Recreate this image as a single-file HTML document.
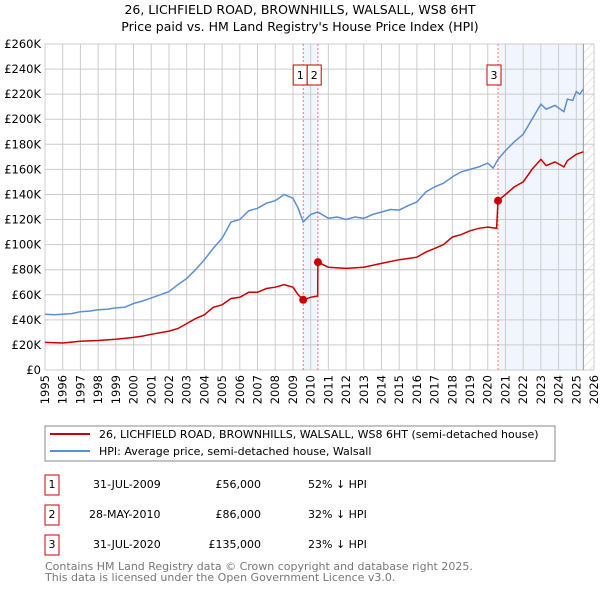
<!DOCTYPE html>
<html><head><meta charset="utf-8"><style>
body{margin:0;background:#fff;font-family:"DejaVu Sans","Liberation Sans",sans-serif;}
svg text{font-family:"DejaVu Sans","Liberation Sans",sans-serif;}
</style></head><body>
<svg id="c" width="600" height="590" viewBox="0 0 600 590" xmlns="http://www.w3.org/2000/svg">
<defs><pattern id="hatch" width="6" height="6" patternUnits="userSpaceOnUse" patternTransform="rotate(45)"><line x1="0" y1="0" x2="0" y2="6" stroke="#ccc" stroke-width="1"/></pattern></defs>
<text x="300" y="14" text-anchor="middle" font-size="12.5">26, LICHFIELD ROAD, BROWNHILLS, WALSALL, WS8 6HT</text>
<text x="300" y="31" text-anchor="middle" font-size="12.5">Price paid vs. HM Land Registry's House Price Index (HPI)</text>
<g id="plot"></g>
<g>
<rect x="45" y="426" width="510" height="35" fill="#fff" stroke="#888"/>
<line x1="50" y1="434" x2="90" y2="434" stroke="#cc0000" stroke-width="2"/>
<text x="99" y="438" font-size="11">26, LICHFIELD ROAD, BROWNHILLS, WALSALL, WS8 6HT (semi-detached house)</text>
<line x1="50" y1="451" x2="90" y2="451" stroke="#5b8fd6" stroke-width="2"/>
<text x="99" y="455" font-size="11">HPI: Average price, semi-detached house, Walsall</text>
</g>
<g font-size="11">
<rect x="45" y="475" width="14" height="20" fill="none" stroke="#cc0000"/><text x="52" y="488" text-anchor="middle">1</text>
<text x="93" y="488">31-JUL-2009</text><text x="261" y="488" text-anchor="end">£56,000</text><text x="308" y="488">52% ↓ HPI</text>
<rect x="45" y="505" width="14" height="20" fill="none" stroke="#cc0000"/><text x="52" y="518" text-anchor="middle">2</text>
<text x="89" y="518">28-MAY-2010</text><text x="261" y="518" text-anchor="end">£86,000</text><text x="308" y="518">32% ↓ HPI</text>
<rect x="45" y="535" width="14" height="20" fill="none" stroke="#cc0000"/><text x="52" y="548" text-anchor="middle">3</text>
<text x="93" y="548">31-JUL-2020</text><text x="261" y="548" text-anchor="end">£135,000</text><text x="308" y="548">23% ↓ HPI</text>
</g>
<text x="45" y="570" font-size="11" fill="#777">Contains HM Land Registry data © Crown copyright and database right 2025.</text>
<text x="45" y="581" font-size="11" fill="#777">This data is licensed under the Open Government Licence v3.0.</text>
</svg>
<script>
const hpiYears=[1995,1995.5,1996,1996.5,1997,1997.5,1998,1998.5,1999,1999.5,2000,2000.5,2001,2001.5,2002,2002.5,2003,2003.5,2004,2004.5,2005,2005.5,2006,2006.5,2007,2007.5,2008,2008.5,2009,2009.3,2009.58,2010,2010.4,2011,2011.5,2012,2012.5,2013,2013.5,2014,2014.5,2015,2015.5,2016,2016.5,2017,2017.5,2018,2018.5,2019,2019.5,2020,2020.3,2020.58,2021,2021.5,2022,2022.5,2023,2023.3,2023.8,2024.3,2024.5,2024.8,2025,2025.2,2025.4];
const hpiValues=[44.5,44,44.5,45,46.5,47,48,48.5,49.5,50,53,55,57.5,60,62.5,68,73,80,88,97,105,118,120,127,129,133,135,140,137,129,118,124,126,121,122,120,122,121,124,126,128,127.5,131,134,142,146,149,154,158,160,162,165,161,168,175,182,188,200,212,208,211,206,216,215,222,220,224];
const priceYears=[1995,1996,1997,1998,1999,2000,2000.5,2001,2002,2002.5,2003,2003.5,2004,2004.5,2005,2005.5,2006,2006.5,2007,2007.5,2008,2008.5,2009,2009.3,2009.58,2010,2010.4,2010.41,2011,2012,2013,2014,2015,2016,2016.5,2017,2017.5,2018,2018.5,2019,2019.5,2020,2020.5,2020.58,2021,2021.5,2022,2022.5,2023,2023.3,2023.8,2024.3,2024.5,2025,2025.4];
const priceValues=[22,21.5,23,23.5,24.5,26,27,28.5,31,33,37,41,44,50,52,57,58,62,62,65,66,68,66,60,56,58,59,86,82,81,82,85,88,90,94,97,100,106,108,111,113,114,113,135,140,146,150,160,168,163,166,162,167,172,174];
const saleYears=[2009.58,2010.41,2020.58];
const saleValues=[56,86,135];
const saleLabels=["1","2","3"];
const yTicks=[0,20,40,60,80,100,120,140,160,180,200,220,240,260];
const xTicks=[1995,1996,1997,1998,1999,2000,2001,2002,2003,2004,2005,2006,2007,2008,2009,2010,2011,2012,2013,2014,2015,2016,2017,2018,2019,2020,2021,2022,2023,2024,2025,2026];
const L=45,R=594,T=44,B=370,x0=1995,x1=2026,ymax=260;
const X=v=>L+(v-x0)/(x1-x0)*(R-L);
const Y=v=>B-v/ymax*(B-T);
const NS="http://www.w3.org/2000/svg";
const g=document.getElementById('plot');
function mk(t,a,p){const e=document.createElementNS(NS,t);for(const k in a)e.setAttribute(k,a[k]);(p||g).appendChild(e);return e;}
let s1=mk('rect',{x:X(saleYears[0]),y:T,width:X(saleYears[1])-X(saleYears[0]),height:B-T,fill:'#eef3fc',opacity:0.8});


let s2=mk('rect',{x:X(saleYears[2]),y:T,width:X(2025.4)-X(saleYears[2]),height:B-T,fill:'#eef3fc',opacity:0.8});


let h=mk('rect',{x:X(2025.4),y:T,width:R-X(2025.4),height:B-T,fill:'url(#hatch)'});


yTicks.forEach(v=>{
 let l=mk('line',{x1:L,x2:R,y1:Y(v),y2:Y(v),stroke:'#ccc'});
 
 
 let t=mk('text',{x:L-4,y:Y(v)+4,'text-anchor':'end','font-size':'11.5'});
 
 
 t.textContent='£'+(v===0?'0':v+'K');
});
xTicks.forEach(v=>{
 let l=mk('line',{x1:X(v),x2:X(v),y1:T,y2:B,stroke:'#ccc'});
 
 
 let t=mk('text',{x:0,y:0,'text-anchor':'end','font-size':'11.5',transform:`translate(${X(v)+4},${B+5}) rotate(-90)`});
 
 
 t.textContent=v;
});
let fr=mk('rect',{x:L,y:T,width:R-L,height:B-T,fill:'none',stroke:'#ccc'});


let nl=mk('line',{x1:X(2025.4),x2:X(2025.4),y1:T,y2:B,stroke:'#999'});


saleYears.forEach((v,i)=>{
 let l=mk('line',{x1:X(v),x2:X(v),y1:T,y2:B,stroke:'#e55','stroke-dasharray':'2,2','stroke-width':0.8});
 
 
});
function path(xs,ys){return xs.map((v,i)=>(i?'L':'M')+X(v).toFixed(1)+','+Y(ys[i]).toFixed(1)).join('');}
let hp=mk('path',{d:path(hpiYears,hpiValues),fill:'none',stroke:'#5b8fd6','stroke-width':1.5});


let pp=mk('path',{d:path(priceYears,priceValues),fill:'none',stroke:'#cc0000','stroke-width':1.5});


saleYears.forEach((v,i)=>{
 let m=mk('circle',{cx:X(v),cy:Y(saleValues[i]),r:4,fill:'#cc0000'});
 
 
 let bx;
 if(i===0)bx=X(saleYears[0])-10;
 else if(i===1)bx=X(saleYears[0])+4;
 else bx=X(v)-11;
 let b=mk('rect',{x:bx,y:65,width:14,height:20,fill:'#fff',stroke:'#cc0000'});
 
 
 let t=mk('text',{x:bx+7,y:79,'text-anchor':'middle','font-size':'11'});
 
 
 t.textContent=saleLabels[i];
});
</script>
</body></html>
